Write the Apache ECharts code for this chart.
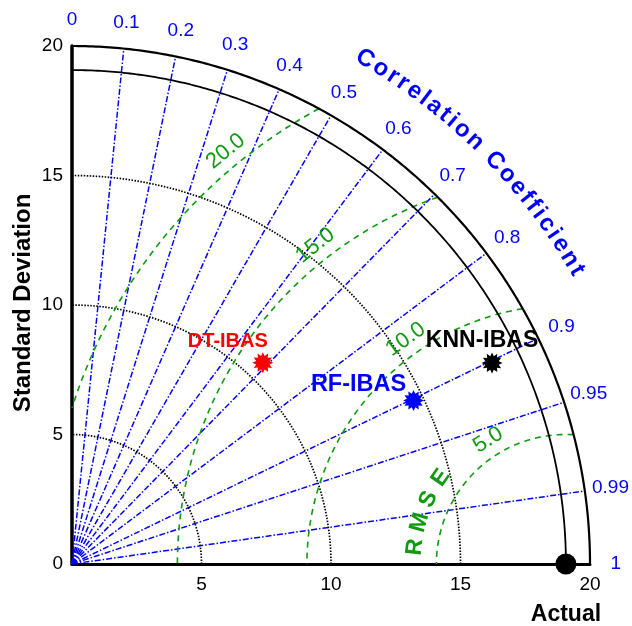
<!DOCTYPE html>
<html>
<head>
<meta charset="utf-8">
<script src="https://cdn.jsdelivr.net/npm/echarts@6/dist/echarts.min.js"></script>
<style>
  html, body { margin: 0; padding: 0; background: #ffffff; }
  #main { width: 632px; height: 626px; }
</style>
</head>
<body>
<div id="main"></div>
<script>
// Taylor diagram: standard deviation (radius) vs correlation coefficient (angle)
const models = ['DT-IBAS', 'RF-IBAS', 'KNN-IBAS'];
const modelStd = [10.71, 14.62, 17.98];
const modelCorr = [0.688, 0.902, 0.902];
const modelColors = ['#ff0000', '#0000ff', '#000000'];
const actualName = 'Actual';
const actualStd = 19.07;
const stdTicks = [0, 5, 10, 15, 20];
const stdCircles = [5, 10, 15];
const corrTicks = [0, 0.1, 0.2, 0.3, 0.4, 0.5, 0.6, 0.7, 0.8, 0.9, 0.95, 0.99, 1];
const corrRays = [0.1, 0.2, 0.3, 0.4, 0.5, 0.6, 0.7, 0.8, 0.9, 0.95, 0.99];
const rmseLevels = [5, 10, 15, 20];
const rmseLabels = ['5.0', '10.0', '15.0', '20.0'];
const maxStd = 20;

const FONT = '"Liberation Sans", Arial, Helvetica, sans-serif';
const BLUE = '#0000ff';
const GREEN = '#109a10';

function arc(cx, cy, r, d0, d1, n) {
  const pts = [];
  for (let i = 0; i <= n; i++) {
    const a = (d0 + (d1 - d0) * i / n) * Math.PI / 180;
    pts.push([cx + r * Math.cos(a), cy + r * Math.sin(a)]);
  }
  return pts;
}

function lineSeries(data, color, width, type, z) {
  return {
    type: 'line', data: data, symbol: 'none', silent: true, animation: false,
    lineStyle: { color: color, width: width, type: type, opacity: 1 },
    z: z || 2
  };
}

function starPath(n, ro, ri) {
  let d = '';
  for (let i = 0; i < 2 * n; i++) {
    const r = i % 2 ? ri : ro;
    const a = Math.PI * i / n - Math.PI / 2;
    d += (i ? 'L' : 'M') + (r * Math.cos(a)).toFixed(2) + ' ' + (r * Math.sin(a)).toFixed(2);
  }
  return 'path://' + d + 'Z';
}

const series = [];

// correlation rays
corrRays.forEach(c => {
  const a = Math.acos(c);
  series.push(lineSeries([[0, 0], [maxStd * Math.cos(a), maxStd * Math.sin(a)]], BLUE, 1.5, [6, 2, 1.5, 2], 2));
});

// standard deviation circles
stdCircles.forEach(r => series.push(lineSeries(arc(0, 0, r, 0, 90, 180), '#000000', 1.7, [1.5, 1.5], 3)));

// RMSE circles centred on the reference point, kept inside the outer circle
rmseLevels.forEach(L => {
  const a = actualStd;
  const xi = (maxStd * maxStd - L * L + a * a) / (2 * a);
  const yi = Math.sqrt(Math.max(0, maxStd * maxStd - xi * xi));
  const d0 = Math.atan2(yi, xi - a) * 180 / Math.PI;
  const d1 = L < a ? 180 : Math.atan2(Math.sqrt(L * L - a * a), -a) * 180 / Math.PI;
  series.push(lineSeries(arc(a, 0, L, d0, d1, 200), GREEN, 1.6, [6, 5], 3));
});

// reference circle and outer boundary
series.push(lineSeries(arc(0, 0, actualStd, 0, 90, 240), '#000000', 1.8, 'solid', 4));
series.push(lineSeries(arc(0, 0, maxStd, 0, 90, 240), '#000000', 2.2, 'solid', 4));

// model points
const labelOffsets = [[-35, -21], [-55, -16], [-10, -22]];
const labelSizes = [20, 23.5, 23];
series.push({
  type: 'scatter', animation: false, z: 10, clip: false,
  symbol: starPath(12, 10, 6.6), symbolSize: 21,
  data: models.map((m, i) => {
    const a = Math.acos(modelCorr[i]);
    return {
      name: m,
      value: [modelStd[i] * Math.cos(a), modelStd[i] * Math.sin(a)],
      itemStyle: { color: modelColors[i], opacity: 1 },
      label: {
        show: true, position: 'inside', offset: labelOffsets[i], formatter: m,
        color: modelColors[i], fontSize: labelSizes[i], fontWeight: 'bold', fontFamily: FONT
      }
    };
  })
});

// reference point
series.push({
  type: 'scatter', animation: false, z: 11, clip: false,
  symbol: 'circle', symbolSize: 21,
  itemStyle: { color: '#000000', opacity: 1 },
  data: [{ name: actualName, value: [actualStd, 0] }],
  label: {
    show: true, position: 'inside', offset: [0, 51], formatter: actualName,
    color: '#000000', fontSize: 23, fontWeight: 'bold', fontFamily: FONT
  }
});

const axisCommon = {
  type: 'value', min: 0, max: maxStd, interval: 5,
  axisTick: { show: false }, splitLine: { show: false }
};

const chart = echarts.init(document.getElementById('main'), null, { renderer: 'canvas', width: 632, height: 626 });
chart.setOption({
  backgroundColor: '#ffffff',
  animation: false,
  grid: { left: 72, top: 46, width: 518, height: 518 },
  xAxis: Object.assign({}, axisCommon, {
    axisLine: { lineStyle: { color: '#000000', width: 3 } },
    axisLabel: {
      color: '#000000', fontSize: 19, fontFamily: FONT, margin: 11,
      formatter: v => (v === 0 ? '' : String(v))
    }
  }),
  yAxis: Object.assign({}, axisCommon, {
    axisLine: { lineStyle: { color: '#000000', width: 3.5 } },
    axisLabel: { color: '#000000', fontSize: 19, fontFamily: FONT, margin: 9 }
  }),
  series: series
});

// text placed around the arcs
const o = chart.convertToPixel({ gridIndex: 0 }, [0, 0]);
const u = (chart.convertToPixel({ gridIndex: 0 }, [maxStd, 0])[0] - o[0]) / maxStd;
function toPx(x, y) { return [o[0] + x * u, o[1] - y * u]; }
function txt(p, text, rotDeg, style) {
  return {
    type: 'text', x: p[0], y: p[1], rotation: rotDeg * Math.PI / 180, silent: true, z: 20,
    style: Object.assign({
      text: text, align: 'center', verticalAlign: 'middle',
      textAlign: 'center', textVerticalAlign: 'middle', fontFamily: FONT
    }, style)
  };
}

const graphics = [];

// correlation tick labels
corrTicks.forEach(c => {
  const a = Math.acos(c);
  graphics.push(txt(toPx(21 * Math.cos(a), 21 * Math.sin(a)), String(c), 0,
    { fill: BLUE, fontSize: 19 }));
});

// curved "Correlation Coefficient" title
(function () {
  const title = 'Correlation Coefficient';
  const fontSize = 24;
  const ctx = document.createElement('canvas').getContext('2d');
  ctx.font = 'bold ' + fontSize + 'px ' + FONT;
  const w = Array.from(title).map(ch => ctx.measureText(ch).width);
  const R = 22.55 * u;
  const aStart = 59.87 * Math.PI / 180, aEnd = 30.18 * Math.PI / 180;
  const span = (aStart - aEnd) * R;
  let inner = 0;
  for (let i = 0; i < w.length; i++) inner += w[i];
  inner -= w[0] / 2 + w[w.length - 1] / 2;
  const gap = (span - inner) / (w.length - 1);
  let s = 0;
  Array.from(title).forEach((ch, i) => {
    if (i > 0) s += w[i - 1] / 2 + gap + w[i] / 2;
    const a = aStart - s / R;
    const p = [o[0] + R * Math.cos(a), o[1] - R * Math.sin(a)];
    if (ch !== ' ') {
      graphics.push(txt(p, ch, a * 180 / Math.PI - 90,
        { fill: BLUE, fontSize: fontSize, fontWeight: 'bold' }));
    }
  });
})();

// RMSE contour labels
const rmseLabelAngles = [122.1, 125.5, 128.2, 129.5];
rmseLevels.forEach((L, i) => {
  const d = rmseLabelAngles[i] * Math.PI / 180;
  const r = L + 0.65;
  graphics.push(txt(toPx(actualStd + r * Math.cos(d), r * Math.sin(d)), rmseLabels[i],
    rmseLabelAngles[i] - 90, { fill: GREEN, fontSize: 22 }));
});

// "RMSE" lettering along its own arc around the reference point
Array.from('RMSE').forEach((ch, i) => {
  const deg = 173.6 - 9.4 * i;
  const d = deg * Math.PI / 180;
  const r = 5.86;
  graphics.push(txt(toPx(actualStd + r * Math.cos(d), r * Math.sin(d)), ch, deg - 90,
    { fill: GREEN, fontSize: 23, fontWeight: 'bold' }));
});

// vertical axis title
graphics.push(txt([23, 303], 'Standard Deviation', 90,
  { fill: '#000000', fontSize: 24, fontWeight: 'bold' }));

chart.setOption({ graphic: graphics });
</script>
</body>
</html>
